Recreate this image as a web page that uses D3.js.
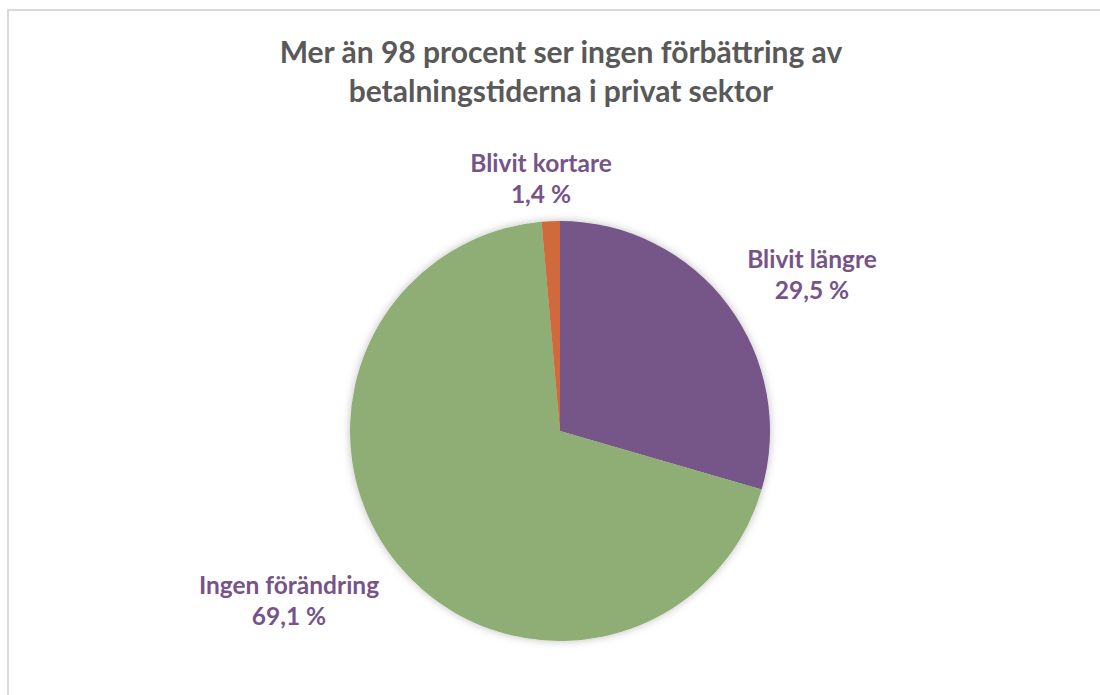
<!DOCTYPE html>
<html><head><meta charset="utf-8">
<script src="https://cdn.jsdelivr.net/npm/d3@7"></script>
<style>body{margin:0;background:#fff}svg{display:block}</style>
</head><body><svg id="c" width="1100" height="695"></svg>
<script>
const categories = ["Blivit längre", "Ingen förändring", "Blivit kortare"];
const values = [29.5, 69.1, 1.4];
const valueLabels = ["29,5 %", "69,1 %", "1,4 %"];
const colors = ["#765489", "#8fae74", "#d0693a"];
const titleLines = ["Mer än 98 procent ser ingen förbättring av", "betalningstiderna i privat sektor"];

const svg = d3.select("#c");
svg.append("rect").attr("x", 8).attr("y", 10).attr("width", 1200).attr("height", 800)
  .attr("fill", "#fff").attr("stroke", "#d9d9d9").attr("stroke-width", 2);

const defs = svg.append("defs");
const f = defs.append("filter").attr("id", "sh").attr("x", "-20%").attr("y", "-20%").attr("width", "140%").attr("height", "140%");
f.append("feDropShadow").attr("dx", 0).attr("dy", 0).attr("stdDeviation", 4).attr("flood-color", "#000").attr("flood-opacity", 0.25);

svg.append("g").selectAll("text").data(titleLines).join("text")
  .attr("x", 561).attr("y", (d, i) => 63 + i * 39)
  .attr("text-anchor", "middle").attr("font-family", "Lato, 'Open Sans', sans-serif")
  .attr("font-weight", "bold").attr("font-size", 30).attr("fill", "#595959").text(d => d);

const cx = 560, cy = 431, r = 210;
const data = categories.map((c, i) => ({c, v: values[i], lab: valueLabels[i], col: colors[i]}));
const pie = d3.pie().value(d => d.v).sort(null);
const arc = d3.arc().innerRadius(0).outerRadius(r);
const g = svg.append("g").attr("transform", `translate(${cx},${cy})`);
g.append("g").attr("filter", "url(#sh)").selectAll("path").data(pie(data)).join("path")
  .attr("d", arc).attr("fill", d => d.data.col);

const labelPos = {"Blivit längre": [252, -163], "Ingen förändring": [-271, 163], "Blivit kortare": [-19, -259]};
const lg = g.append("g");
pie(data).forEach(d => {
  const [x, y] = labelPos[d.data.c];
  const t = lg.append("text").attr("x", x).attr("y", y).attr("text-anchor", "middle")
    .attr("font-family", "Lato, 'Open Sans', sans-serif").attr("font-weight", "bold")
    .attr("font-size", 24.5).attr("fill", "#765489");
  t.append("tspan").attr("x", x).attr("dy", 0).text(d.data.c);
  t.append("tspan").attr("x", x).attr("dy", 31).text(d.data.lab);
});
</script></body></html>
